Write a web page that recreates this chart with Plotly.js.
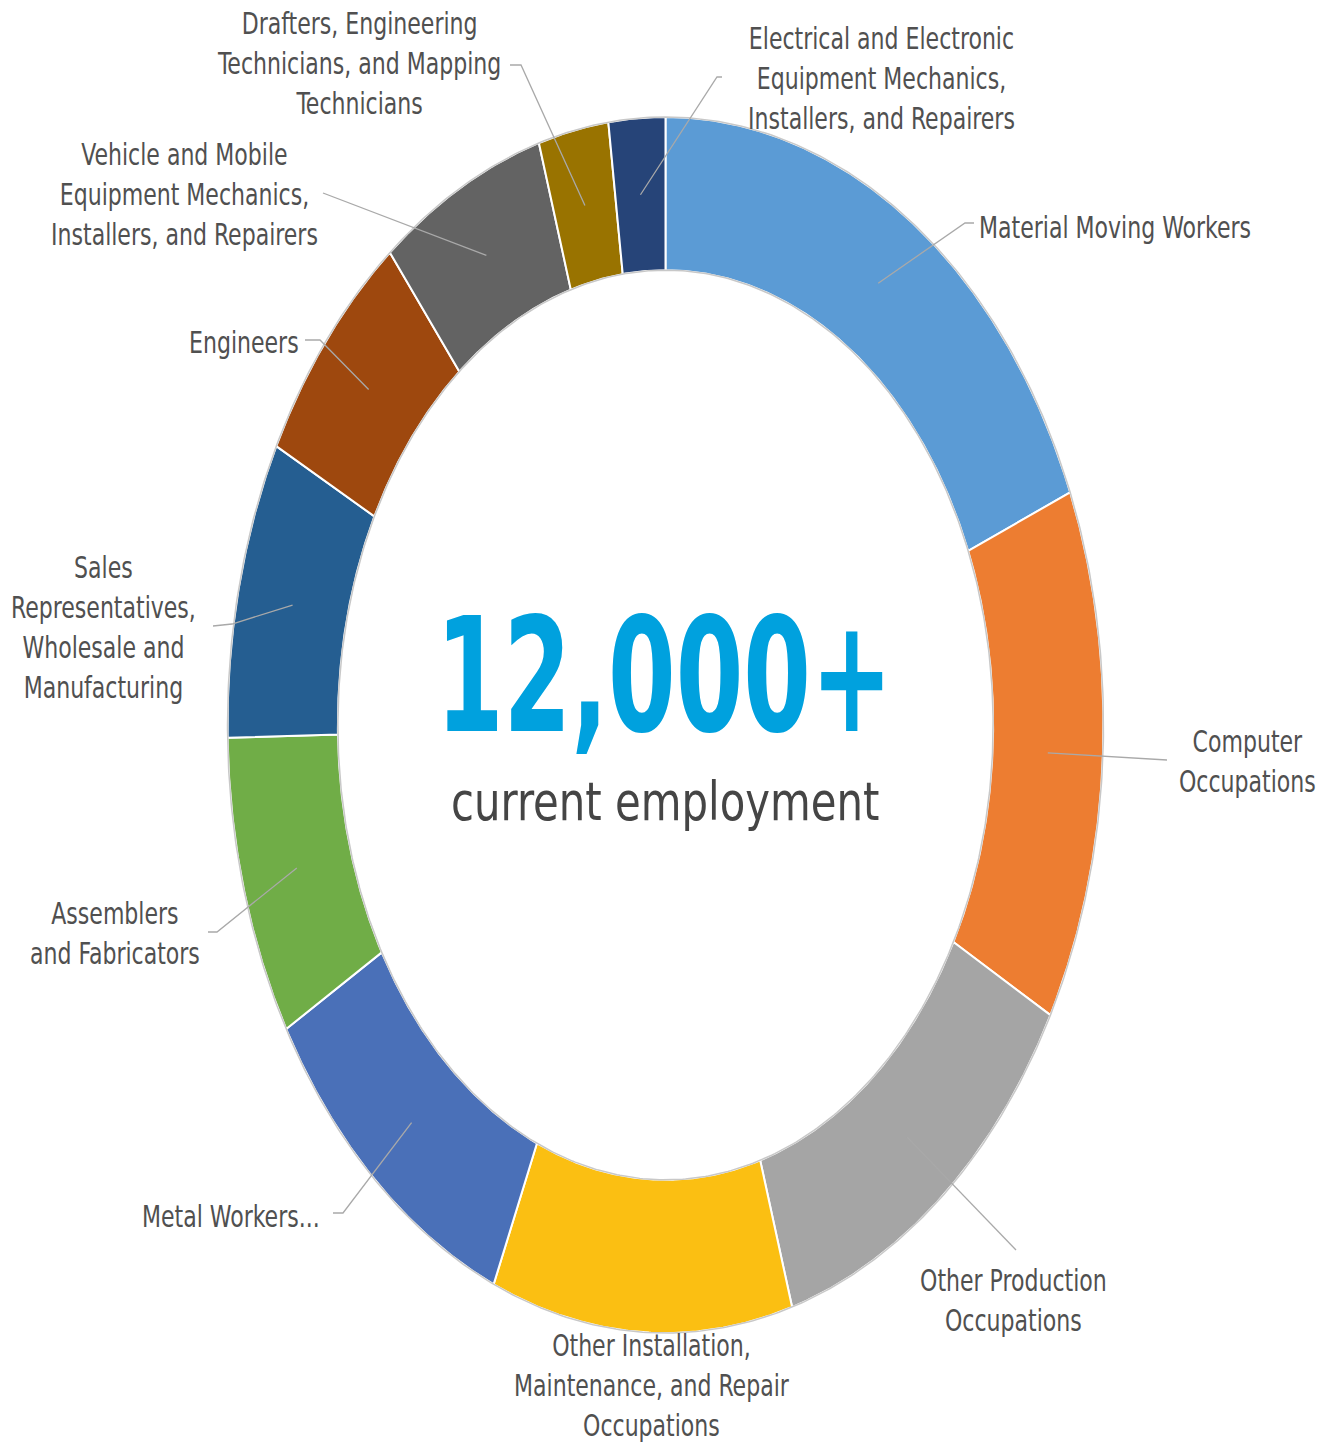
<!DOCTYPE html>
<html>
<head>
<meta charset="utf-8">
<script src="https://cdn.plot.ly/plotly-3.0.1.min.js"></script>
<style>
  html, body { margin: 0; padding: 0; background: #ffffff; }
  #chart { width: 1337px; height: 1444px; }
  /* emulate the tall, condensed lettering of the original */
  #chart .annotation .annotation-text {
    transform-box: fill-box; transform-origin: 50% 50%; transform: scaleY(1.25);
  }
  #chart .annotation[data-index="11"] .annotation-text { transform: scaleY(1.47); }
  #chart .annotation[data-index="12"] .annotation-text { transform: scaleY(1.15); }
</style>
</head>
<body>
<div id="chart"></div>
<script>
// ---------------- DATA ----------------
const categories = [
  "Material Moving Workers",
  "Computer Occupations",
  "Other Production Occupations",
  "Other Installation, Maintenance, and Repair Occupations",
  "Metal Workers...",
  "Assemblers and Fabricators",
  "Sales Representatives, Wholesale and Manufacturing",
  "Engineers",
  "Vehicle and Mobile Equipment Mechanics, Installers, and Repairers",
  "Drafters, Engineering Technicians, and Mapping Technicians",
  "Electrical and Electronic Equipment Mechanics, Installers, and Repairers"
];
const employment = [2250, 1700, 1490, 1330, 1230, 960, 950, 790, 740, 310, 250];
const labelText = [
  "Material Moving Workers",
  "Computer<br>Occupations",
  "Other Production<br>Occupations",
  "Other Installation,<br>Maintenance, and Repair<br>Occupations",
  "Metal Workers...",
  "Assemblers<br>and Fabricators",
  "Sales<br>Representatives,<br>Wholesale and<br>Manufacturing",
  "Engineers",
  "Vehicle and Mobile<br>Equipment Mechanics,<br>Installers, and Repairers",
  "Drafters, Engineering<br>Technicians, and Mapping<br>Technicians",
  "Electrical and Electronic<br>Equipment Mechanics,<br>Installers, and Repairers"
];
const centerValue = "12,000+";
const centerCaption = "current employment";

// ---------------- STYLE / LAYOUT ----------------
const colors = ["#5B9BD5", "#ED7D31", "#A5A5A5", "#FBBF12", "#4A70B8", "#70AD47",
                "#255E91", "#9E480E", "#636363", "#997300", "#264478"];
const W = 1337, H = 1444;
const CX = 665.5, CY = 725, RA = 438, RB = 608;   // ellipse centre & radii in px
const HOLE = 0.748;
const MIDR = (1 + HOLE) / 2;
const px2x = p => (p - CX) / RA;
const py2y = p => (CY - p) / RB;

// label placement (pixels): [x, y, xanchor]
const labelPos = [
  [977, 227, "left"], [1247, 761, "center"], [1013, 1300, "center"],
  [652, 1385, "center"], [322, 1216, "right"], [115, 933, "center"],
  [103, 627, "center"], [301, 342, "right"], [184, 194, "center"],
  [359, 63, "center"], [881, 78, "center"]
];
// leader line tail points (pixels) after the slice anchor; empty => no leader
const leaderTail = [
  [[965, 223], [974, 223]],
  [[1167, 760]],
  [[1016, 1250]],
  [],
  [[343, 1213], [333, 1213]],
  [[217, 932], [208, 932]],
  [[232, 624], [213, 626]],
  [[320, 340], [305, 340]],
  [[323, 193]],
  [[521, 65], [510, 65]],
  [[717, 77], [722, 77]]
];

// ---------------- BUILD ----------------
const total = employment.reduce((a, b) => a + b, 0);
const traces = [];
const deg = Math.PI / 180;
let start = 0;
const mids = [];
employment.forEach((v, i) => {
  const span = v / total * 360;
  const end = start + span;
  const xs = [], ys = [];
  const n = Math.max(8, Math.ceil(span * 4));
  for (let k = 0; k <= n; k++) {
    const t = (start + span * k / n) * deg;
    xs.push(Math.sin(t)); ys.push(Math.cos(t));
  }
  for (let k = n; k >= 0; k--) {
    const t = (start + span * k / n) * deg;
    xs.push(HOLE * Math.sin(t)); ys.push(HOLE * Math.cos(t));
  }
  xs.push(xs[0]); ys.push(ys[0]);
  traces.push({
    type: "scatter", mode: "lines", x: xs, y: ys, fill: "toself",
    fillcolor: colors[i], line: { color: "#ffffff", width: 2 },
    hoveron: "fills", hoverinfo: "text",
    text: categories[i] + ": " + v.toLocaleString("en-US"),
    showlegend: false
  });
  mids.push((start + span / 2) * deg);
  start = end;
});

// subtle gray rims on outer and inner edges
[1, HOLE].forEach(r => {
  const xs = [], ys = [];
  for (let k = 0; k <= 720; k++) {
    const t = k / 2 * deg;
    xs.push(r * Math.sin(t)); ys.push(r * Math.cos(t));
  }
  traces.push({ type: "scatter", mode: "lines", x: xs, y: ys,
    line: { color: "#c8c8c8", width: 1.5 }, hoverinfo: "skip", showlegend: false });
});

// leader lines
mids.forEach((t, i) => {
  if (!leaderTail[i].length) return;
  const xs = [MIDR * Math.sin(t)], ys = [MIDR * Math.cos(t)];
  leaderTail[i].forEach(p => { xs.push(px2x(p[0])); ys.push(py2y(p[1])); });
  traces.push({ type: "scatter", mode: "lines", x: xs, y: ys,
    line: { color: "#a9a9a9", width: 1.3 }, hoverinfo: "skip", showlegend: false });
});

const labelFont = "'Liberation Sans Narrow', 'DejaVu Sans Condensed', 'Arial Narrow', 'Roboto', sans-serif";
const annotations = labelText.map((txt, i) => ({
  x: px2x(labelPos[i][0]), y: py2y(labelPos[i][1]), xref: "x", yref: "y",
  text: txt, showarrow: false, xanchor: labelPos[i][2], yanchor: "middle",
  align: "center", font: { family: labelFont, size: 24.5, color: "#505050" }
}));
annotations.push({
  x: px2x(664), y: py2y(675), xref: "x", yref: "y", text: "<b>" + centerValue + "</b>",
  showarrow: false, xanchor: "center", yanchor: "middle",
  font: { family: labelFont, size: 108, color: "#00A1DE" }
});
annotations.push({
  x: px2x(665), y: py2y(802), xref: "x", yref: "y", text: centerCaption,
  showarrow: false, xanchor: "center", yanchor: "middle",
  font: { family: labelFont, size: 46.5, color: "#454545" }
});

const layout = {
  width: W, height: H, autosize: false,
  margin: { l: 0, r: 0, t: 0, b: 0, pad: 0 },
  paper_bgcolor: "#ffffff", plot_bgcolor: "#ffffff",
  showlegend: false,
  xaxis: { range: [px2x(0), px2x(W)], visible: false, fixedrange: true },
  yaxis: { range: [py2y(H), py2y(0)], visible: false, fixedrange: true },
  annotations: annotations,
  hovermode: "closest"
};

Plotly.newPlot("chart", traces, layout, { displayModeBar: false });
</script>
</body>
</html>
